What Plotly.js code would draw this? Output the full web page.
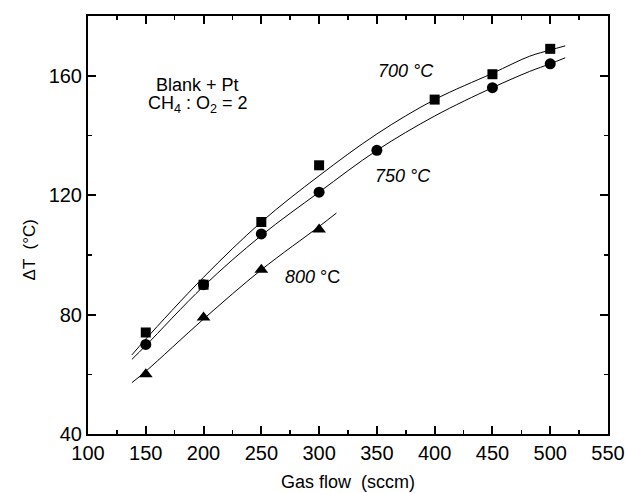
<!DOCTYPE html>
<html>
<head>
<meta charset="utf-8">
<script src="https://cdn.plot.ly/plotly-3.0.1.min.js"></script>
<style>html,body{margin:0;padding:0;background:#fff;}#chart{width:625px;height:493px;}</style>
</head>
<body>
<div id="chart"></div>
<script>
// Measured points
const flow700 = [150, 200, 250, 300, 400, 450, 500];
const dT700   = [74, 90, 111, 130, 152, 160.5, 169];
const flow750 = [150, 200, 250, 300, 350, 450, 500];
const dT750   = [70, 90, 107, 121, 135, 156, 164];
const flow800 = [150, 200, 250, 300];
const dT800   = [60, 79, 95, 108.5];

// Fitted curves
const fitX700 = [138, 150, 200, 250, 300, 350, 400, 450, 482, 500, 513];
const fitY700 = [66.5, 71.8, 92.5, 111, 126.5, 140.5, 152, 160.8, 166.5, 168.6, 170];
const fitX750 = [138, 150, 200, 250, 300, 350, 400, 450, 482, 500, 513];
const fitY750 = [65, 69.6, 89.5, 106.5, 121, 135, 146.5, 156, 161.4, 164, 166];
const fitX800 = [138, 150, 200, 250, 300, 315];
const fitY800 = [57.2, 61, 78.5, 95, 109.5, 114];

const xTicks = [100, 150, 200, 250, 300, 350, 400, 450, 500, 550];
const yTicks = [40, 80, 120, 160];

const curveLabels = ['<i>700 °C</i>', '<i>750 °C</i>', '<i>800</i> °C'];
const curveLabelX = [375, 373, 294];
const curveLabelY = [161.5, 126.3, 92.6];

const fontFam = 'Liberation Sans, Arial, Helvetica, sans-serif';

function fitTrace(x, y) {
  return {x: x, y: y, mode: 'lines', type: 'scatter',
    line: {color: '#000', width: 1, shape: 'spline'}, hoverinfo: 'skip'};
}
function ptTrace(x, y, sym, size) {
  return {x: x, y: y, mode: 'markers', type: 'scatter',
    marker: {symbol: sym, size: size, color: '#000'}};
}

const data = [
  fitTrace(fitX700, fitY700),
  fitTrace(fitX750, fitY750),
  fitTrace(fitX800, fitY800),
  ptTrace(flow700, dT700, 'square', 10),
  ptTrace(flow750, dT750, 'circle', 11),
  ptTrace(flow800, dT800, 'triangle-up', 12)
];

const annotations = curveLabels.map((t, i) => ({
  x: curveLabelX[i], y: curveLabelY[i], xref: 'x', yref: 'y', text: t,
  showarrow: false, font: {family: fontFam, size: 18, color: '#000'}
}));
annotations.push({
  x: 195, y: 157.0, xref: 'x', yref: 'y', text: 'Blank + Pt',
  showarrow: false, font: {family: fontFam, size: 18, color: '#000'}
});
annotations.push({
  x: 195, y: 150.3, xref: 'x', yref: 'y', text: 'CH<sub>4</sub> : O<sub>2</sub> = 2',
  showarrow: false, font: {family: fontFam, size: 18, color: '#000'}
});
// y-axis title placed as in the reference (below the axis centre)
annotations.push({
  x: -0.135, y: 0.44, xref: 'paper', yref: 'paper', text: 'ΔT  (°C)',
  textangle: -90, showarrow: false, font: {family: fontFam, size: 17, color: '#000'}
});

const axisCommon = {
  showgrid: false, zeroline: false, showline: true, linecolor: '#000', linewidth: 2,
  mirror: 'allticks', ticks: 'inside', ticklen: 8, tickwidth: 2, tickcolor: '#000',
  tickfont: {family: fontFam, size: 20, color: '#000'}
};

const layout = {
  width: 625, height: 493,
  margin: {l: 88, r: 17, t: 16, b: 59},
  paper_bgcolor: '#fff', plot_bgcolor: '#fff',
  showlegend: false,
  xaxis: Object.assign({}, axisCommon, {
    range: [100, 550], tickmode: 'array', tickvals: xTicks, ticktext: xTicks.map(String),
    minor: {ticks: 'inside', dtick: 25, tick0: 100, ticklen: 4, tickwidth: 1.5, tickcolor: '#000'},
    title: {text: 'Gas flow  (sccm)', font: {family: fontFam, size: 18, color: '#000'}, standoff: 12}
  }),
  yaxis: Object.assign({}, axisCommon, {
    range: [40, 180], tickmode: 'array', tickvals: yTicks, ticktext: yTicks.map(String),
    minor: {ticks: 'inside', dtick: 20, tick0: 40, ticklen: 4, tickwidth: 1.5, tickcolor: '#000'}
  }),
  annotations: annotations
};

Plotly.newPlot('chart', data, layout, {displayModeBar: false, staticPlot: true});
</script>
</body>
</html>
